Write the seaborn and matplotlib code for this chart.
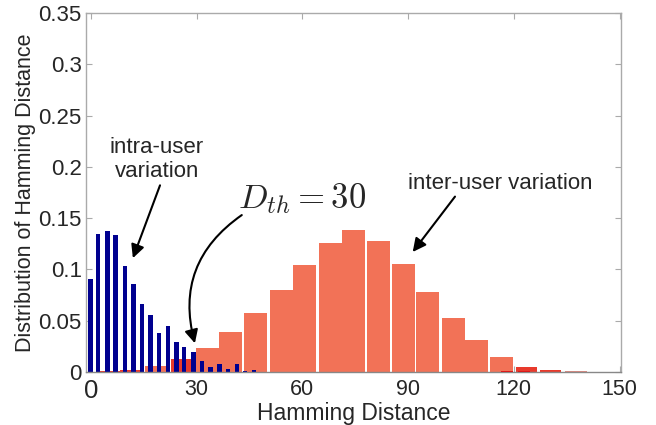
import matplotlib
matplotlib.use("Agg")
import matplotlib.pyplot as plt
import seaborn as sns
import pandas as pd

# ---- data ----
intra_x = [-0.1, 2.1, 4.7, 7.0, 9.6, 12.1, 14.5, 16.9, 19.4, 21.8,
           24.3, 26.5, 29.1, 31.6, 33.9, 36.5, 38.9, 41.4, 43.7, 46.2]
intra_y = [0.0906, 0.1345, 0.1374, 0.1338, 0.1033, 0.0861, 0.0663, 0.0556, 0.038, 0.0451,
           0.0292, 0.0247, 0.0195, 0.0107, 0.005, 0.0078, 0.003, 0.0078, 0.001, 0.002]

inter_x = [18.6, 33.0, 39.7, 46.8, 54.0, 60.7, 67.9, 74.6, 81.7, 88.7,
           95.5, 102.8, 109.4, 116.5]
inter_y = [0.006, 0.0234, 0.039, 0.0575, 0.080, 0.1043, 0.1257, 0.1384, 0.1277, 0.1053,
           0.078, 0.0526, 0.0312, 0.0146]

red_x = [5.4, 11.3, 25.7, 123.5, 130.4]
red_y = [0.001, 0.002, 0.0127, 0.005, 0.002]

pink_x = [137.6]
pink_y = [0.001]

bright_x = [118.0, 122.8]
bright_y = [0.001, 0.001]

xticks = [0, 30, 60, 90, 120, 150]
xtick_labels = ["0", "30", "60", "90", "120", "150"]
yticks = [0, 0.05, 0.1, 0.15, 0.2, 0.25, 0.3, 0.35]
ytick_labels = ["0", "0.05", "0.1", "0.15", "0.2", "0.25", "0.3", "0.35"]

# ---- style ----
sns.set_style("white")
plt.rcParams["font.family"] = ["Liberation Sans", "DejaVu Sans"]
plt.rcParams["mathtext.fontset"] = "cm"

fig = plt.figure(figsize=(6.56, 4.25), dpi=100)
ax = fig.add_axes([86 / 656, 1 - 372 / 425, (621 - 86) / 656, (372 - 13) / 425])


def draw(xs, ys, color, width):
    before = len(ax.patches)
    df = pd.DataFrame({"x": xs, "y": ys})
    sns.barplot(data=df, x="x", y="y", native_scale=True, color=color,
                saturation=1, errorbar=None, ax=ax, linewidth=0)
    for p in ax.patches[before:]:
        c = p.get_x() + p.get_width() / 2
        p.set_width(width)
        p.set_x(c - width / 2)


draw(inter_x, inter_y, "#F27257", 6.5)
draw(red_x, red_y, "#E83A2C", 6.0)
draw(pink_x, pink_y, "#E08A80", 6.2)
draw(bright_x, bright_y, "#F00000", 3.4)
draw(intra_x, intra_y, "#00008F", 1.2)

ax.set_xlim(-1.4, 150.4)
ax.set_ylim(0, 0.35)
ax.set_xticks(xticks)
ax.set_xticklabels(xtick_labels, fontsize=15.5)
ax.get_xticklabels()[0].set_fontsize(18.5)
ax.set_yticks(yticks)
ax.set_yticklabels(ytick_labels, fontsize=16)
ax.tick_params(direction="in", length=4, color="#aaaaaa", top=True, right=True,
               left=True, bottom=True)
ax.tick_params(axis="y", pad=3)
ax.tick_params(axis="x", pad=5)
for s in ax.spines.values():
    s.set_color("#aaaaaa")
    s.set_linewidth(1.0)
ax.spines["bottom"].set_color("#888888")

ax.set_xlabel("Hamming Distance", fontsize=16.5, labelpad=-1)
ax.set_ylabel("Distribution of Hamming Distance", fontsize=15.5, labelpad=2)

arrow = dict(arrowstyle="-|>", mutation_scale=20, color="black", lw=1.5,
             shrinkA=0, shrinkB=0)

ax.text(18.7, 0.207, "intra-user\nvariation", ha="center", va="center",
        fontsize=16, linespacing=1.2)
ax.annotate("", xy=(11.9, 0.111), xytext=(19.6, 0.182), arrowprops=arrow)

ax.text(59.9, 0.169, r"$D_{th} = 30$", fontsize=25, ha="center", va="center")
ax.annotate("", xy=(29.5, 0.028), xytext=(42.8, 0.153),
            arrowprops=dict(arrow, connectionstyle="arc3,rad=0.35"))

ax.text(116.0, 0.184, "inter-user variation", fontsize=16, ha="center", va="center")
ax.annotate("", xy=(91.3, 0.117), xytext=(103.3, 0.171), arrowprops=arrow)

fig.savefig("out.png", dpi=100)
